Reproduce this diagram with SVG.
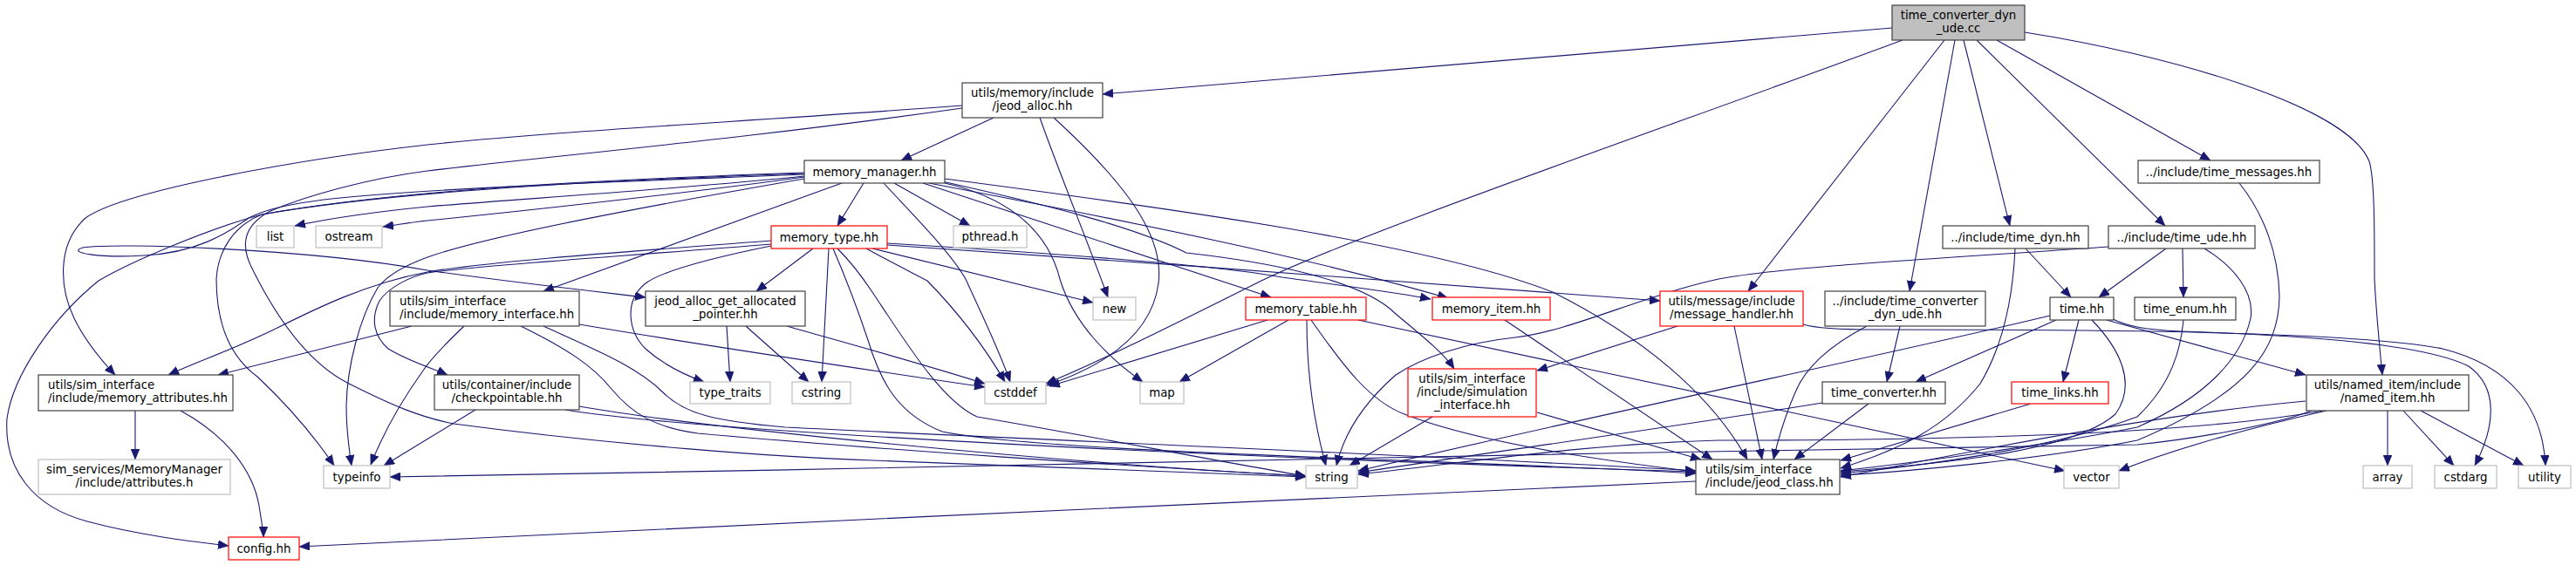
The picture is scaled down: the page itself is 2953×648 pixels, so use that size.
<svg xmlns="http://www.w3.org/2000/svg" width="2953" height="648" viewBox="0 0 2953 648">
<style>
text{font-family:"DejaVu Sans","Liberation Sans",sans-serif;font-size:13.33px;fill:#000;text-anchor:middle}
text.l{text-anchor:start}
.n rect{fill:#fff;stroke:#404040;stroke-width:1.2}
.x rect{fill:#fff;stroke:#bfbfbf;stroke-width:1.2}
.r rect{fill:#fff;stroke:#ff0000;stroke-width:1.2}
.root rect{fill:#bfbfbf;stroke:#404040;stroke-width:1.2}
#edges path{fill:none;stroke:#191970;stroke-width:1.1;marker-end:url(#a)}
</style>
<defs>
<marker id="a" viewBox="0 0 12 10" refX="12" refY="5" markerWidth="12" markerHeight="10" markerUnits="userSpaceOnUse" orient="auto">
<path d="M0,0 L12,5 L0,10 z" fill="#191970" stroke="#191970" stroke-width="0.5"/>
</marker>
</defs>
<rect width="2953" height="648" fill="#fff"/>
<g id="edges">
<path d="M2169,32 L1264,108"/>
<path d="M2181,46 C1900,150 1550,270 1440,325 C1350,370 1260,415 1199,440"/>
<path d="M2229,46 L2004,334"/>
<path d="M2241,46 L2189,334"/>
<path d="M2251,46 L2304,259"/>
<path d="M2266,46 L2482,259"/>
<path d="M2289,46 L2534,184"/>
<path d="M2321,37 C2480,62 2690,120 2716,185 C2722,205 2722,260 2722,320 C2724,360 2728,400 2731,430"/>
<path d="M1139,135 L1033,184"/>
<path d="M1192,135 C1215,200 1248,280 1270,341"/>
<path d="M1208,135 C1290,210 1335,270 1328,325 C1320,385 1265,420 1200,442"/>
<path d="M1103,121 C850,140 640,150 490,166 C330,184 140,220 98,250 C65,280 68,330 85,365 C98,392 115,412 132,430"/>
<path d="M1103,124 C850,160 620,180 490,196 C420,205 350,225 310,242 C280,258 274,280 290,310 C315,360 350,415 400,440 C450,465 480,478 520,486 C700,510 900,525 1000,528 C1200,535 1400,544 1497,547"/>
<path d="M922,200 C750,207 500,215 380,228 C330,234 305,240 285,250 C260,268 225,290 165,293 C115,296 75,290 95,284 C130,278 350,285 490,310 C580,323 680,334 740,341"/>
<path d="M922,198 C750,204 480,214 300,246 C240,262 150,300 113,322 C60,365 15,430 8,480 C4,540 40,582 100,598 C160,614 220,621 262,626"/>
<path d="M922,199 C750,205 470,216 300,246 C270,258 250,285 248,320 C248,375 265,410 295,432 C330,465 360,500 383,534"/>
<path d="M922,205 C750,235 560,270 490,295 C460,306 442,318 433,330 C412,365 398,420 397,465 C397,495 400,515 403,534"/>
<path d="M884,276 C700,290 560,300 490,312 C420,325 360,355 320,375 C270,400 225,415 193,430"/>
<path d="M884,280 C700,295 540,305 490,313 C470,317 445,330 435,345 C425,365 428,385 445,400 C470,415 495,422 513,430"/>
<path d="M922,202 C800,215 600,228 490,237 C430,243 380,250 338,259"/>
<path d="M922,203 C800,220 600,242 490,253 C470,255 455,258 439,260"/>
<path d="M990,210 L960,259"/>
<path d="M965,210 L623,334"/>
<path d="M1025,210 L1112,259"/>
<path d="M1013,210 C1050,250 1090,290 1107,320 C1125,360 1145,400 1158,438"/>
<path d="M1083,210 C1150,225 1200,260 1215,320 C1230,370 1270,410 1310,438"/>
<path d="M1058,210 L1457,341"/>
<path d="M1065,210 C1300,255 1500,295 1660,342"/>
<path d="M1080,208 C1200,235 1300,260 1360,290 C1450,300 1560,320 1600,360 C1630,385 1655,405 1667,423"/>
<path d="M1083,205 C1350,240 1640,280 1780,335 C1880,385 1960,450 2003,527"/>
<path d="M1000,285 L1253,347"/>
<path d="M993,285 C1020,300 1050,315 1063,322 C1100,360 1130,400 1152,438"/>
<path d="M932,285 L867,334"/>
<path d="M950,285 L942,438"/>
<path d="M884,282 C820,295 760,310 740,325 C715,345 720,380 740,400 C760,418 785,430 807,438"/>
<path d="M960,285 C975,300 990,320 1000,335 C1040,395 1080,460 1120,478 C1250,500 1400,530 1497,546"/>
<path d="M955,285 C970,320 985,360 995,390 C1010,440 1030,475 1080,495 C1200,520 1700,528 1944,543"/>
<path d="M1017,279 C1200,290 1400,305 1470,318 C1540,328 1600,335 1640,343"/>
<path d="M1017,281 C1300,300 1650,325 1903,345"/>
<path d="M472,374 L250,430"/>
<path d="M532,374 C510,395 495,410 485,425 C460,460 440,495 425,533"/>
<path d="M664,372 C800,395 1000,425 1129,444"/>
<path d="M597,374 C650,400 680,420 700,445 C725,475 750,490 800,497 C1000,515 1300,535 1497,546"/>
<path d="M623,374 C680,400 730,420 760,450 C785,475 820,483 900,490 C1200,505 1700,525 1944,540"/>
<path d="M833,374 L837,438"/>
<path d="M855,374 L927,438"/>
<path d="M902,374 C940,385 1050,415 1129,440"/>
<path d="M545,470 L440,534"/>
<path d="M664,466 C800,490 1200,530 1497,546"/>
<path d="M648,470 C800,495 1400,525 1944,541"/>
<path d="M155,471 L155,527"/>
<path d="M207,471 C260,500 290,540 297,580 C300,600 302,610 302,616"/>
<path d="M2650,471 C2600,490 2500,505 2450,510 C2000,517 1200,530 990,537 C800,541 600,545 447,547"/>
<path d="M1944,552 C1600,566 800,605 343,627"/>
<path d="M1453,367 L1203,443"/>
<path d="M1477,367 L1352,438"/>
<path d="M1498,367 C1498,420 1505,480 1520,534"/>
<path d="M1503,367 C1540,420 1570,460 1610,475 C1700,510 1850,530 1944,541"/>
<path d="M1557,367 L2367,540"/>
<path d="M1725,367 L1963,527"/>
<path d="M1642,478 L1547,534"/>
<path d="M1762,473 L1950,527"/>
<path d="M1923,374 L1762,425"/>
<path d="M1988,374 L2020,527"/>
<path d="M2067,372 C2080,376 2100,378 2150,378 C2400,378 2700,380 2800,400 C2880,420 2915,470 2918,534"/>
<path d="M2420,365 C2440,375 2460,378 2500,380 C2650,385 2780,395 2830,420 C2865,445 2860,490 2837,534"/>
<path d="M2417,283 C2250,295 2050,305 1970,320 C1880,340 1800,380 1737,387 C1680,393 1630,410 1600,430 C1560,465 1540,500 1532,534"/>
<path d="M2483,285 L2406,341"/>
<path d="M2502,285 L2503,341"/>
<path d="M2527,285 C2560,305 2585,335 2580,365 C2570,410 2530,455 2450,490 C2350,510 2200,530 2110,540"/>
<path d="M2567,210 C2595,245 2612,290 2613,340 C2612,400 2580,450 2450,505 C2350,525 2200,540 2110,545"/>
<path d="M2322,285 L2374,341"/>
<path d="M2310,285 C2308,330 2300,390 2270,440 C2230,490 2180,515 2110,537"/>
<path d="M2140,374 C2100,395 2070,420 2058,450 C2045,480 2038,505 2033,527"/>
<path d="M2178,374 L2163,438"/>
<path d="M2350,362 C2150,410 1900,460 1557,540"/>
<path d="M2357,367 L2196,438"/>
<path d="M2383,367 L2365,438"/>
<path d="M2398,367 C2430,400 2450,440 2425,475 C2380,515 2250,530 2110,541"/>
<path d="M2415,367 L2643,430"/>
<path d="M2503,367 C2500,400 2490,440 2450,478 C2350,515 2200,535 2110,543"/>
<path d="M2089,462 C1950,485 1700,520 1557,542"/>
<path d="M2142,463 L2057,527"/>
<path d="M2328,463 L2110,528"/>
<path d="M2737,471 L2737,534"/>
<path d="M2755,471 L2813,534"/>
<path d="M2775,471 L2893,534"/>
<path d="M2643,460 C2450,478 2250,520 2110,547"/>
<path d="M2663,471 C2500,500 2200,505 1970,505 C1800,510 1650,535 1557,544"/>
<path d="M2667,471 C2560,495 2480,520 2429,540"/>
</g>
<g id="root" class="root"><rect x="2169" y="6" width="152" height="40"/><text x="2245" y="21.5">time_converter_dyn</text><text x="2245" y="36.5">_ude.cc</text></g>
<g id="jeod_alloc" class="n"><rect x="1103" y="95" width="161" height="40"/><text x="1183.5" y="110.5">utils/memory/include</text><text x="1183.5" y="125.5">/jeod_alloc.hh</text></g>
<g id="memory_manager" class="n"><rect x="922" y="184" width="161" height="26"/><text x="1002.5" y="201.5">memory_manager.hh</text></g>
<g id="time_messages" class="n"><rect x="2451" y="184" width="208" height="26"/><text x="2555" y="201.5">../include/time_messages.hh</text></g>
<g id="list" class="x"><rect x="294" y="259" width="43" height="25"/><text x="315.5" y="276">list</text></g>
<g id="ostream" class="x"><rect x="362" y="259" width="76" height="25"/><text x="400" y="276">ostream</text></g>
<g id="memory_type" class="r"><rect x="884" y="259" width="133" height="26"/><text x="950.5" y="276.5">memory_type.hh</text></g>
<g id="pthread" class="x"><rect x="1093" y="259" width="84" height="25"/><text x="1135" y="276">pthread.h</text></g>
<g id="time_dyn" class="n"><rect x="2227" y="259" width="167" height="26"/><text x="2310.5" y="276.5">../include/time_dyn.hh</text></g>
<g id="time_ude" class="n"><rect x="2417" y="259" width="168" height="26"/><text x="2501" y="276.5">../include/time_ude.hh</text></g>
<g id="memory_interface" class="n"><rect x="447" y="334" width="217" height="40"/><text class="l" x="458" y="349.5">utils/sim_interface</text><text class="l" x="458" y="364.5">/include/memory_interface.hh</text></g>
<g id="jeod_alloc_get_allocated_pointer" class="n"><rect x="740" y="334" width="183" height="40"/><text x="831.5" y="349.5">jeod_alloc_get_allocated</text><text x="831.5" y="364.5">_pointer.hh</text></g>
<g id="new" class="x"><rect x="1253" y="341" width="49" height="26"/><text x="1277.5" y="358.5">new</text></g>
<g id="memory_table" class="r"><rect x="1428" y="341" width="138" height="26"/><text x="1497" y="358.5">memory_table.hh</text></g>
<g id="memory_item" class="r"><rect x="1642" y="341" width="135" height="26"/><text x="1709.5" y="358.5">memory_item.hh</text></g>
<g id="message_handler" class="r"><rect x="1903" y="334" width="164" height="40"/><text x="1985" y="349.5">utils/message/include</text><text x="1985" y="364.5">/message_handler.hh</text></g>
<g id="time_converter_dyn_ude" class="n"><rect x="2092" y="334" width="184" height="40"/><text x="2184" y="349.5">../include/time_converter</text><text x="2184" y="364.5">_dyn_ude.hh</text></g>
<g id="time" class="n"><rect x="2350" y="341" width="73" height="26"/><text x="2386.5" y="358.5">time.hh</text></g>
<g id="time_enum" class="n"><rect x="2447" y="341" width="116" height="26"/><text x="2505" y="358.5">time_enum.hh</text></g>
<g id="memory_attributes" class="n"><rect x="44" y="430" width="223" height="41"/><text class="l" x="55" y="446">utils/sim_interface</text><text class="l" x="55" y="461">/include/memory_attributes.hh</text></g>
<g id="checkpointable" class="n"><rect x="498" y="430" width="166" height="40"/><text x="581" y="446">utils/container/include</text><text x="581" y="461">/checkpointable.hh</text></g>
<g id="type_traits" class="x"><rect x="791" y="438" width="92" height="25"/><text x="837" y="455">type_traits</text></g>
<g id="cstring" class="x"><rect x="908" y="438" width="67" height="25"/><text x="941.5" y="455">cstring</text></g>
<g id="cstddef" class="x"><rect x="1129" y="438" width="70" height="25"/><text x="1164" y="455">cstddef</text></g>
<g id="map" class="x"><rect x="1307" y="438" width="50" height="25"/><text x="1332" y="455">map</text></g>
<g id="simulation_interface" class="r"><rect x="1614" y="423" width="147" height="55"/><text x="1687.5" y="438.5">utils/sim_interface</text><text x="1687.5" y="453.5">/include/simulation</text><text x="1687.5" y="468.5">_interface.hh</text></g>
<g id="time_converter" class="n"><rect x="2089" y="438" width="141" height="25"/><text x="2159.5" y="455">time_converter.hh</text></g>
<g id="time_links" class="r"><rect x="2306" y="438" width="111" height="25"/><text x="2361.5" y="455">time_links.hh</text></g>
<g id="named_item" class="n"><rect x="2644" y="430" width="186" height="41"/><text x="2737" y="446">utils/named_item/include</text><text x="2737" y="461">/named_item.hh</text></g>
<g id="attributes_h" class="x"><rect x="44" y="527" width="220" height="40"/><text x="154" y="542.5">sim_services/MemoryManager</text><text x="154" y="557.5">/include/attributes.h</text></g>
<g id="typeinfo" class="x"><rect x="371" y="534" width="76" height="26"/><text x="409" y="551.5">typeinfo</text></g>
<g id="string" class="x"><rect x="1497" y="534" width="59" height="26"/><text x="1526.5" y="551.5">string</text></g>
<g id="jeod_class" class="n"><rect x="1944" y="527" width="165" height="40"/><text class="l" x="1955" y="542.5">utils/sim_interface</text><text class="l" x="1955" y="557.5">/include/jeod_class.hh</text></g>
<g id="vector" class="x"><rect x="2366" y="534" width="63" height="26"/><text x="2397.5" y="551.5">vector</text></g>
<g id="array" class="x"><rect x="2709" y="534" width="56" height="26"/><text x="2737" y="551.5">array</text></g>
<g id="cstdarg" class="x"><rect x="2791" y="534" width="71" height="26"/><text x="2826.5" y="551.5">cstdarg</text></g>
<g id="utility" class="x"><rect x="2887" y="534" width="60" height="26"/><text x="2917" y="551.5">utility</text></g>
<g id="config" class="r"><rect x="262" y="616" width="81" height="26"/><text x="302.5" y="633.5">config.hh</text></g>
</svg>
